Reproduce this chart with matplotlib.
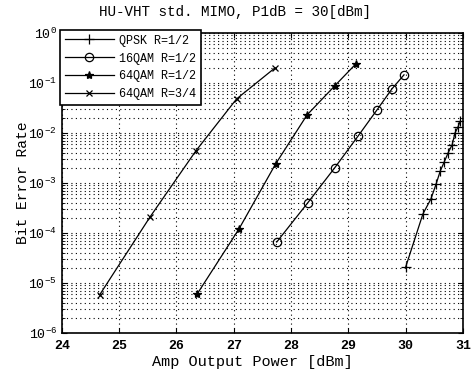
import numpy as np
import matplotlib
matplotlib.use("Agg")
import matplotlib.pyplot as plt
from matplotlib.ticker import FixedLocator, NullFormatter

# ── DATA ───────────────────────────────────────────────────────────────────────
qpsk_x = [30.00, 30.30, 30.44, 30.53, 30.60, 30.67, 30.74, 30.81, 30.86, 30.91, 30.95]
qpsk_y = [2.1e-5, 2.4e-4, 4.8e-4, 9.5e-4, 1.7e-3, 2.6e-3, 4.0e-3, 5.8e-3, 1.0e-2, 1.3e-2, 1.7e-2]

qam16_x = [27.75, 28.29, 28.76, 29.17, 29.50, 29.76, 29.97]
qam16_y = [6.6e-5, 4.0e-4, 2.0e-3, 8.7e-3, 2.9e-2, 7.6e-2, 0.145]

qam64h_x = [26.36, 27.09, 27.73, 28.28, 28.76, 29.13]
qam64h_y = [6.0e-6, 1.2e-4, 2.4e-3, 2.3e-2, 8.7e-2, 0.24]

qam64q_x = [24.66, 25.54, 26.34, 27.05, 27.72]
qam64q_y = [5.8e-6, 2.1e-4, 4.4e-3, 4.8e-2, 0.20]

labels = ["QPSK R=1/2", "16QAM R=1/2", "64QAM R=1/2", "64QAM R=3/4"]
decades = list(range(-6, 1))

# ── STYLE ──────────────────────────────────────────────────────────────────────
FONT = "Liberation Mono"
plt.rcParams.update({
    "font.family": FONT,
    "mathtext.fontset": "custom",
    "mathtext.rm": FONT,
    "mathtext.it": FONT,
    "mathtext.bf": FONT + ":bold",
})

fig = plt.figure(figsize=(4.72, 3.78), dpi=100)
ax = fig.add_axes([0.131, 0.119, 0.850, 0.794])

kw = dict(color="black", lw=0.9)
ax.semilogy(qpsk_x, qpsk_y, marker="+", ms=7, mew=0.9, label=labels[0], **kw)
ax.semilogy(qam16_x, qam16_y, marker="o", ms=6, mfc="none", mew=0.9, label=labels[1], **kw)
ax.semilogy(qam64h_x, qam64h_y, marker="*", ms=6, mew=0.9, label=labels[2], **kw)
ax.semilogy(qam64q_x, qam64q_y, marker="x", ms=5, mew=0.9, label=labels[3], **kw)

ax.set_xlim(24, 31)
ax.set_ylim(1e-6, 1)
ax.set_xticks(range(24, 32))

# decade ticks only inside the 1e-6 .. 1 range, minor ticks at 2..9 of each decade
major = [10.0 ** d for d in decades]
minor = [m * 10.0 ** d for d in decades[:-1] for m in range(2, 10)]
ax.yaxis.set_major_locator(FixedLocator(major))
ax.yaxis.set_minor_locator(FixedLocator(minor))
ax.yaxis.set_minor_formatter(NullFormatter())
ax.set_yticklabels([rf"$10^{{{d}}}$" for d in decades])

ax.grid(True, which="major", axis="both", color="black", ls=(0, (1, 3)), lw=0.8)
ax.grid(True, which="minor", axis="y", color="black", ls=(0, (1, 3)), lw=0.8)

ax.tick_params(which="both", direction="in", top=True, right=True, labelsize=9.5)
ax.tick_params(axis="x", pad=5)
for lbl in ax.get_xticklabels() + ax.get_yticklabels():
    lbl.set_fontweight("bold")
for sp in ax.spines.values():
    sp.set_linewidth(1.2)

fig.suptitle("HU-VHT std. MIMO, P1dB = 30[dBm]", fontsize=10.3, x=0.498, y=0.968,
             va="center")
ax.set_xlabel("Amp Output Power [dBm]", fontsize=11, labelpad=2, x=0.474)
ax.set_ylabel("Bit Error Rate", fontsize=10.5)
ax.yaxis.set_label_coords(-0.08, 0.5)

leg = ax.legend(loc="upper left", bbox_to_anchor=(-0.005, 1.01), fontsize=8.5,
                fancybox=False, framealpha=1, edgecolor="black",
                borderaxespad=0, handlelength=4.2, labelspacing=0.5,
                handletextpad=0.4)
leg.get_frame().set_linewidth(1.2)

fig.savefig("out.png", dpi=100)
